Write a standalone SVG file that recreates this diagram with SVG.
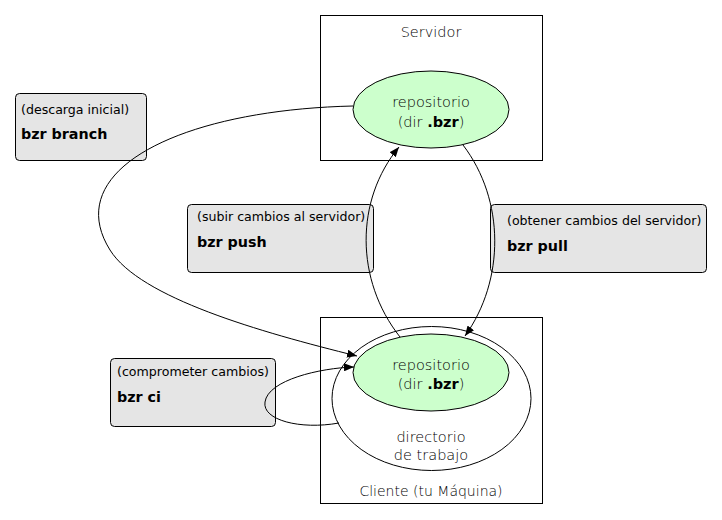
<svg xmlns="http://www.w3.org/2000/svg" width="722" height="520" viewBox="0 0 722 520">
<style>
.frame{fill:#fff;stroke:#000;stroke-width:1}
.repo{fill:#ccffcc;stroke:#000;stroke-width:1}
.wd{fill:none;stroke:#000;stroke-width:1}
.lbl{fill:#e5e5e5;stroke:#000;stroke-width:1}
.nt{font-family:"DejaVu Sans",sans-serif;font-weight:200;font-size:14.5px;fill:#000;text-anchor:middle}
.nt tspan.b{font-weight:bold}
.st{font-family:"DejaVu Sans",sans-serif;font-size:12.6px;fill:#000}
.bt{font-family:"DejaVu Sans",sans-serif;font-size:14.3px;font-weight:bold;fill:#000}
.edge{fill:none;stroke:#000;stroke-width:1}
</style>
<defs>
<marker id="arr" viewBox="0 0 10 8" refX="10" refY="4" markerWidth="10" markerHeight="8" markerUnits="userSpaceOnUse" orient="auto">
<path d="M0,0 L10,4 L0,8 Z" fill="#000"/>
</marker>
</defs>
<rect width="722" height="520" fill="#fff"/>
<g id="servidor">
<rect class="frame" x="320.5" y="15.5" width="222" height="145"/>
<text class="nt" x="431" y="37">Servidor</text>
</g>
<g id="repo-servidor">
<ellipse class="repo" cx="431" cy="109.5" rx="78" ry="38.5"/>
<text class="nt" x="431" y="107">repositorio</text>
<text class="nt" x="431" y="127">(dir <tspan class="b">.bzr</tspan>)</text>
</g>
<g id="cliente">
<rect class="frame" x="320.5" y="317.5" width="222" height="186"/>
<text class="nt" x="431" y="496" style="font-size:14px">Cliente (tu Máquina)</text>
</g>
<g id="directorio-trabajo">
<ellipse class="wd" cx="431.5" cy="398.5" rx="99.5" ry="72"/>
<text class="nt" x="431" y="442">directorio</text>
<text class="nt" x="431" y="460">de trabajo</text>
</g>
<g id="repo-cliente">
<ellipse class="repo" cx="431" cy="372.5" rx="78" ry="38.5"/>
<text class="nt" x="431" y="370">repositorio</text>
<text class="nt" x="431" y="389">(dir <tspan class="b">.bzr</tspan>)</text>
</g>
<g id="lbl-branch">
<rect class="lbl" x="15.5" y="93.5" width="131" height="67" rx="4"/>
<text class="st" x="21" y="114">(descarga inicial)</text>
<text class="bt" x="21" y="139">bzr branch</text>
</g>
<g id="lbl-push">
<rect class="lbl" x="187.5" y="204.5" width="186" height="68" rx="4"/>
<text class="st" x="197" y="221">(subir cambios al servidor)</text>
<text class="bt" x="197" y="247">bzr push</text>
</g>
<g id="lbl-pull">
<rect class="lbl" x="490.5" y="204.5" width="216" height="68" rx="4"/>
<text class="st" x="507" y="225">(obtener cambios del servidor)</text>
<text class="bt" x="507" y="251">bzr pull</text>
</g>
<g id="lbl-ci">
<rect class="lbl" x="110.5" y="358.5" width="165" height="68" rx="4"/>
<text class="st" x="117" y="376">(comprometer cambios)</text>
<text class="bt" x="117" y="402">bzr ci</text>
</g>
<g id="connectors">
<path class="edge" marker-end="url(#arr)" d="M353,106 C180,110 60,170 110,250 C140,298 260,332 357,356"/>
<path class="edge" marker-end="url(#arr)" d="M400,337 C355,280 355,200 399,147"/>
<path class="edge" marker-end="url(#arr)" d="M463,145 C505,200 505,280 465,336"/>
<path class="edge" marker-end="url(#arr)" d="M339,423 C300,430 262,420 265,402 C268,380 320,368 354,367"/>
</g>
</svg>
